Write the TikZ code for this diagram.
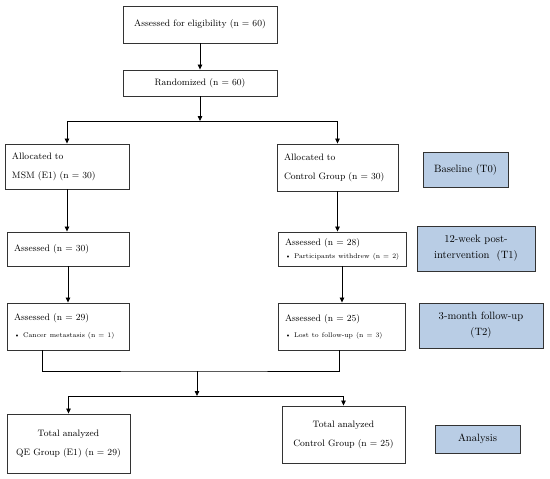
\documentclass[tikz,border=0pt]{standalone}
\usepackage{tikz}
\usetikzlibrary{arrows.meta,positioning,calc}
\definecolor{phase}{HTML}{B9CDE5}
\definecolor{edge}{HTML}{333333}
\newcommand{\bulletline}[1]{\mbox{\fontsize{6.8}{8}\selectfont\textbullet\ #1}}

\begin{document}
\begin{tikzpicture}[x=1pt,y=-1pt,
    box/.style={draw=edge, line width=0.9pt, fill=white, inner xsep=7pt, inner ysep=2pt,
                font=\fontsize{9.3}{19}\selectfont},
    lbox/.style={box, align=left},
    cbox/.style={box, align=center},
    phasebox/.style={draw=edge, line width=0.9pt, fill=phase, align=center, inner sep=2pt,
                     font=\fontsize{10.6}{16}\selectfont},
    flow/.style={draw=black, line width=0.8pt},
    tip/.style={-{Triangle[length=5pt,width=4.5pt]}}]
  \useasboundingbox (0,0) rectangle (550,479);
  % enrolment
  \node[cbox, text width=140pt, minimum height=37pt] (elig) at (200,24.5) {Assessed for eligibility (n = 60)};
  \node[cbox, text width=140pt, minimum height=26pt] (rand) at (200,83) {Randomized (n = 60)};
  % allocation
  \node[lbox, text width=110pt, minimum height=45pt] (alloc1) at (67,166.5) {Allocated to\\MSM (E1) (n = 30)};
  \node[lbox, text width=107pt, minimum height=47pt] (alloc2) at (337.5,167.5) {Allocated to\\Control Group (n = 30)};
  % post-intervention
  \node[lbox, text width=108pt, minimum height=34pt] (post1) at (68,249) {Assessed (n = 30)};
  \node[lbox, text width=114pt, minimum height=34pt] (post2) at (342,249)
    {Assessed (n = 28)\\[-6pt]\bulletline{Participants withdrew (n = 2)}};
  % follow-up
  \node[lbox, text width=108pt, minimum height=47pt] (fu1) at (68,326.5)
    {Assessed (n = 29)\\[-2pt]\bulletline{Cancer metastasis (n = 1)}};
  \node[lbox, text width=113pt, minimum height=47pt] (fu2) at (341.5,326.5)
    {Assessed (n = 25)\\[-3pt]\bulletline{Lost to follow-up (n = 3)}};
  % analysis
  \node[cbox, text width=109pt, minimum height=59pt] (total1) at (68.5,443.5) {Total analyzed\\QE Group (E1) (n = 29)};
  \node[cbox, text width=109pt, minimum height=57pt] (total2) at (343.5,434.5) {Total analyzed\\Control Group (n = 25)};
  % time points
  \node[phasebox, minimum width=85pt, minimum height=35pt] (t0) at (465.5,169.5) {Baseline (T0)};
  \node[phasebox, minimum width=118pt, minimum height=45pt] (t1) at (476,248.5) {12-week post-\\intervention~~(T1)};
  \node[phasebox, minimum width=124pt, minimum height=45pt] (t2) at (481,325.5) {3-month follow-up\\(T2)};
  \node[phasebox, minimum width=85pt, minimum height=28pt] (t3) at (477.5,439) {Analysis};
  % connectors
  \coordinate (fork) at (200,121);
  \coordinate (merge) at (197,371);
  \coordinate (fork2) at (197,396);
  \draw[flow, tip] (elig) -- (rand);
  \draw[flow, tip] (rand) -- (fork);
  \draw[flow, tip] (fork) -| (alloc1);
  \draw[flow, tip] (fork) -| (alloc2);
  \draw[flow, tip] (alloc1.south) -- (alloc1.south |- post1.north);
  \draw[flow, tip] (alloc2.south) -- (alloc2.south |- post2.north);
  \draw[flow, tip] (post1.south) -- (post1.south |- fu1.north);
  \draw[flow, tip] (post2.south) -- (post2.south |- fu2.north);
  \draw[flow] ([xshift=-26pt]fu1.south) |- (merge) -| ([xshift=-2pt]fu2.south);
  \draw[flow, tip] (merge) -- (fork2);
  \draw[flow, tip] (fork2) -| (total1);
  \draw[flow, tip] (fork2) -| (total2);
\end{tikzpicture}
\end{document}
